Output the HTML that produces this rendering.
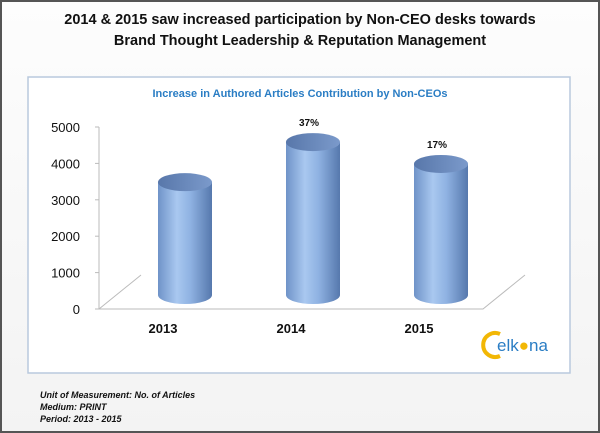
<!DOCTYPE html>
<html><head><meta charset="utf-8"><style>
body{margin:0;width:600px;height:433px;overflow:hidden;background:#fff;font-family:"Liberation Sans",sans-serif}
#wrap{position:absolute;left:0;top:0;width:596px;height:429px;border:2px solid #555;background:linear-gradient(#fdfdfd,#f3f3f3)}
</style></head><body>
<div id="wrap"></div>
<svg width="600" height="433" style="position:absolute;left:0;top:0">
<defs>
<linearGradient id="cyl" x1="0" x2="1" y1="0" y2="0">
<stop offset="0" stop-color="#6f93c8"/><stop offset="0.35" stop-color="#a9c8f0"/><stop offset="0.6" stop-color="#8fb2e2"/><stop offset="1" stop-color="#5678ad"/></linearGradient>
<linearGradient id="cap" x1="0" x2="1"><stop offset="0" stop-color="#5877aa"/><stop offset="1" stop-color="#7b9acb"/></linearGradient>
</defs>
<text x="300" y="24" text-anchor="middle" font-size="14.5" font-weight="bold" fill="#111">2014 &amp; 2015 saw increased participation by Non-CEO desks towards</text>
<text x="300" y="45" text-anchor="middle" font-size="14.5" font-weight="bold" fill="#111">Brand Thought Leadership &amp; Reputation Management</text>
<rect x="28" y="77" width="542" height="296" fill="#fff" stroke="#b9c9dd" stroke-width="1.5"/>
<text x="300" y="97" text-anchor="middle" font-size="11" font-weight="bold" fill="#2a7dc4">Increase in Authored Articles  Contribution by Non-CEOs</text>
<g id="axes"></g><g id="bars"></g>
<g>
<path d="M500 334 A12 12 0 1 0 500 356" fill="none" stroke="#f2b705" stroke-width="4"/>
<text x="497" y="351" font-size="17" fill="#2a7dc4">elk<tspan fill="#f2b705">●</tspan>na</text>
</g>
<g font-size="9" font-style="italic" font-weight="bold" fill="#111">
<text x="40" y="398">Unit of Measurement: No. of Articles</text>
<text x="40" y="410">Medium: PRINT</text>
<text x="40" y="422">Period: 2013 - 2015</text>
</g>
</svg>
<script>
const categories=["2013","2014","2015"];
const values=[3100,4200,3600];
const pctLabels=["","37%","17%"];
const yTicks=[0,1000,2000,3000,4000,5000];
const NS="http://www.w3.org/2000/svg";
const x0=99,x1=483,yBase=309,yTop=127,dx=22,dy=-14;
const y=v=>yBase-(v/5000)*(yBase-yTop);
const xc=i=>x0+(x1-x0)*(i+0.5)/categories.length;
function mk(t,a,p){const e=document.createElementNS(NS,t);for(const k in a)e.setAttribute(k,a[k]);p.appendChild(e);return e;}
const ax=document.getElementById('axes'),bg=document.getElementById('bars');
const yl=mk('line',{x1:x0,y1:y(5000),x2:x0,y2:yBase,stroke:'#bbb'},ax);


const fl=mk('path',{d:`M${x0} ${yBase}L${x1} ${yBase}L${x1+42} ${yBase-34}M${x0} ${yBase}L${x0+42} ${yBase-34}`,stroke:'#bbb',fill:'none'},ax);


yTicks.forEach(t=>{
 const tx=mk('text',{x:80,y:y(t)+5,'text-anchor':'end','font-size':13,fill:'#111'},ax);tx.textContent=t;
 
 
 mk('line',{x1:x0-4,x2:x0,y1:y(t),y2:y(t),stroke:'#bbb'},ax);
});
categories.forEach((c,i)=>{
 const cx=xc(i)+dx,w=27,ry=9,top=y(values[i])+dy,bot=yBase+dy;
 const g=mk('g',{},bg);
 
 
 mk('path',{d:`M${cx-w} ${top}L${cx-w} ${bot}A${w} ${ry} 0 0 0 ${cx+w} ${bot}L${cx+w} ${top}Z`,fill:'url(#cyl)'},g);
 mk('ellipse',{cx:cx,cy:top,rx:w,ry:ry,fill:'url(#cap)'},g);
 const lb=mk('text',{x:xc(i),y:yBase+24,'text-anchor':'middle','font-size':13,'font-weight':'bold',fill:'#111'},ax);lb.textContent=c;
 
 
 if(pctLabels[i]){const p=mk('text',{x:cx-4,y:top-16,'text-anchor':'middle','font-size':10,'font-weight':'bold',fill:'#111'},bg);p.textContent=pctLabels[i];
 
 }
});
</script>
</body></html>
